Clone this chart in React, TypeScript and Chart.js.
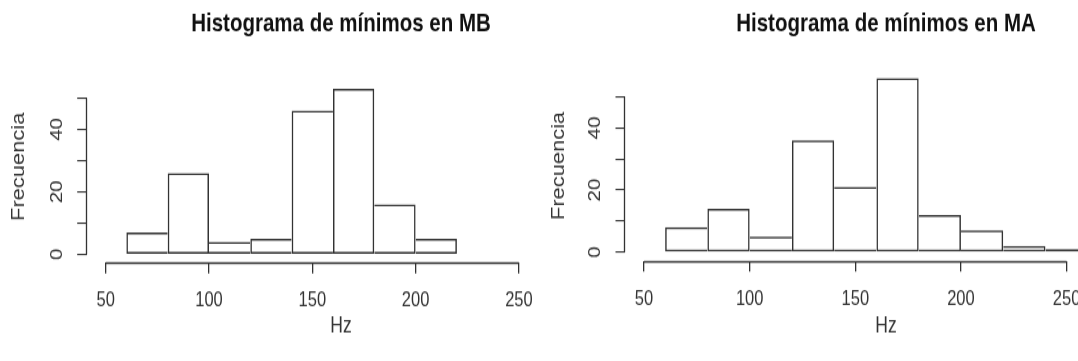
import React, { useEffect, useRef } from 'react';
import { Chart, registerables } from 'chart.js';

Chart.register(...registerables);

// ---------- data ----------
const breaksMB = [60, 80, 100, 120, 140, 160, 180, 200, 220];
const countsMB = [7, 26, 4, 5, 46, 53, 16, 5];
const breaksMA = [60, 80, 100, 120, 140, 160, 180, 200, 220, 240, 260];
const countsMA = [8, 14, 5, 36, 21, 56, 12, 7, 2, 1];
const xTicks = [50, 100, 150, 200, 250];
const yTicks = [0, 10, 20, 30, 40, 50];
const yLabelStep = 20;
const titleMB = 'Histograma de mínimos en MB';
const titleMA = 'Histograma de mínimos en MA';
const xLabel = 'Hz';
const yLabel = 'Frecuencia';

// ---------- layout ----------
const S = 1.25; // vertical stretch of the whole picture
const CANVAS_H = 289;
const TOP = 57; // chart-area top (internal px)
const FONT = "'Liberation Sans', Arial, Helvetica, sans-serif";
const INK = '#333';
const BAR_LINE = 1.5;

type PanelCfg = {
  left: number; width: number; L: number; R: number;
  x50: number; kx: number; y0: number; ky: number; xAxisY: number;
  title: string; breaks: number[]; counts: number[];
};

const panels: PanelCfg[] = [
  { left: 0, width: 600, L: 86.7, R: 595.3, x50: 105.7, kx: 2.066, y0: 254.3, ky: 3.125, xAxisY: 262.3,
    title: titleMB, breaks: breaksMB, counts: countsMB },
  { left: 540, width: 620, L: 85, R: 607, x50: 104, kx: 2.113, y0: 252.2, ky: 3.11, xAxisY: 260.7,
    title: titleMA, breaks: breaksMA, counts: countsMA },
];

const axisLines = {
  id: 'axisLines',
  afterDraw(chart: any) {
    const { ctx, chartArea, scales } = chart;
    const x = scales.x, y = scales.y;
    ctx.save();
    ctx.strokeStyle = INK;
    ctx.lineWidth = 1.3;
    ctx.beginPath();
    const ax = Math.round(chartArea.left) - 0.5;
    ctx.moveTo(ax, y.getPixelForValue(yTicks[0]));
    ctx.lineTo(ax, y.getPixelForValue(yTicks[yTicks.length - 1]));
    const ay = Math.round(chartArea.bottom) + 0.5;
    ctx.moveTo(x.getPixelForValue(xTicks[0]), ay);
    ctx.lineTo(x.getPixelForValue(xTicks[xTicks.length - 1]), ay);
    ctx.stroke();
    ctx.restore();
  },
};

function buildConfig(p: PanelCfg): any {
  const B = p.xAxisY / S;
  const y0 = p.y0 / S;
  const ky = p.ky / S;
  const xMin = 50 - (p.x50 - p.L) / p.kx;
  const xMax = 50 + (p.R - p.x50) / p.kx;
  const yMin = -(B - y0) / ky;
  const yMax = (y0 - TOP) / ky;
  const titleSize = 20.5;
  const tickSize = 16.5;
  const labSize = 17.5;
  const counts = p.counts;
  const data = counts.map((c, i) => ({ x: (p.breaks[i] + p.breaks[i + 1]) / 2, y: c }));
  // each shared edge is drawn once, by the taller of the two neighbouring bars
  const sideWidths = (i: number) => ({
    top: BAR_LINE,
    bottom: BAR_LINE,
    left: i === 0 || counts[i] >= counts[i - 1] ? BAR_LINE : 0,
    right: i === counts.length - 1 || counts[i] > counts[i + 1] ? BAR_LINE : 0,
  });
  return {
    type: 'bar',
    data: {
      datasets: [{
        data,
        backgroundColor: 'rgba(255,255,255,0)',
        borderColor: INK,
        borderWidth: (c: any) => sideWidths(c.dataIndex),
        borderSkipped: false,
        inflateAmount: 0,
        barPercentage: 1,
        categoryPercentage: 1,
      }],
    },
    options: {
      animation: false,
      responsive: false,
      devicePixelRatio: 1,
      layout: { padding: { left: 0, right: p.width - p.R, top: 0, bottom: 0 } },
      plugins: {
        legend: { display: false },
        tooltip: { enabled: false },
        title: {
          display: true,
          text: p.title,
          fullSize: false,
          color: '#111',
          font: { family: FONT, size: titleSize, weight: 'bold' },
          padding: { top: 7.5, bottom: TOP - 7.5 - titleSize * 1.2 },
        },
      },
      scales: {
        x: {
          type: 'linear',
          min: xMin,
          max: xMax,
          offset: false,
          afterBuildTicks: (s: any) => { s.ticks = xTicks.map((v) => ({ value: v })); },
          afterFit: (s: any) => { s.height = CANVAS_H - B; },
          grid: { display: true, offset: false, drawOnChartArea: false, drawTicks: true, tickLength: 8.8, color: INK, lineWidth: 1.3 },
          border: { display: false },
          ticks: {
            autoSkip: false, minRotation: 0, maxRotation: 0, padding: 12,
            color: INK, font: { family: FONT, size: tickSize },
            callback: (v: any) => String(v),
          },
          title: {
            display: true, text: xLabel, color: INK,
            font: { family: FONT, size: labSize },
            padding: { top: 0, bottom: 16.9 },
          },
        },
        y: {
          type: 'linear',
          min: yMin,
          max: yMax,
          afterBuildTicks: (s: any) => { s.ticks = yTicks.map((v) => ({ value: v })); },
          afterFit: (s: any) => { s.width = p.L; },
          grid: { display: true, offset: false, drawOnChartArea: false, drawTicks: true, tickLength: 9.5, color: INK, lineWidth: 1.1 },
          border: { display: false },
          ticks: {
            autoSkip: false, minRotation: 90, maxRotation: 90, crossAlign: 'center', padding: 10.5,
            color: INK, font: { family: FONT, size: tickSize },
            callback: (v: any) => (v % yLabelStep === 0 ? String(v) : ''),
          },
          title: {
            display: true, text: yLabel, color: INK,
            font: { family: FONT, size: labSize },
            padding: { top: 8.2, bottom: 0 },
          },
        },
      },
    },
    plugins: [axisLines],
  };
}

function Panel({ p }: { p: PanelCfg }) {
  const ref = useRef<HTMLCanvasElement>(null);
  useEffect(() => {
    if (!ref.current) return;
    const chart = new Chart(ref.current, buildConfig(p));
    return () => chart.destroy();
  }, [p]);
  return (
    <canvas
      ref={ref}
      width={p.width}
      height={CANVAS_H}
      style={{ position: 'absolute', left: p.left, top: 0, transform: `scaleY(${S})`, transformOrigin: '0 0' }}
    />
  );
}

export default function App() {
  return (
    <div style={{ position: 'fixed', left: 0, top: 0, width: 1078, height: 361, overflow: 'hidden', background: '#fff' }}>
      {panels.map((p, i) => <Panel key={i} p={p} />)}
    </div>
  );
}
